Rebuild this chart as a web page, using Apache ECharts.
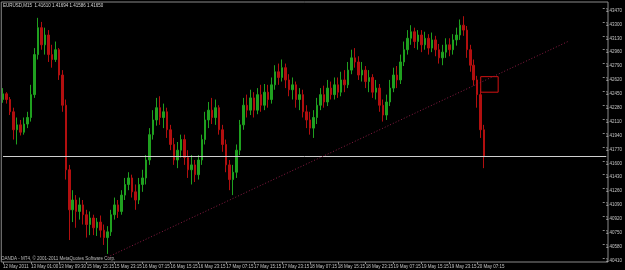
<!DOCTYPE html>
<html>
<head>
<meta charset="utf-8">
<script src="https://cdn.jsdelivr.net/npm/echarts@6/dist/echarts.min.js"></script>
<style>
  html, body { margin: 0; padding: 0; background: #000; }
  #chart { width: 625px; height: 270px; }
</style>
</head>
<body>
<div id="chart"></div>
<script>
// EURUSD candles, one per hour
const opens = [
  1.4235, 1.4242, 1.4235, 1.4220, 1.4198, 1.4204, 1.4195, 1.4205,
  1.4213, 1.4241, 1.4290, 1.4323, 1.4302, 1.4314, 1.4290, 1.4284,
  1.4296, 1.4265, 1.4228, 1.4149, 1.4100, 1.4112, 1.4098, 1.4106,
  1.4094, 1.4082, 1.4090, 1.4078, 1.4085, 1.4075, 1.4066, 1.4073,
  1.4094, 1.4106, 1.4098, 1.4118, 1.4131, 1.4139, 1.4122, 1.4112,
  1.4131, 1.4139, 1.4161, 1.4192, 1.4210, 1.4225, 1.4213, 1.4220,
  1.4198, 1.4180, 1.4161, 1.4173, 1.4186, 1.4164, 1.4149, 1.4155,
  1.4143, 1.4161, 1.4186, 1.4210, 1.4222, 1.4213, 1.4225, 1.4198,
  1.4180, 1.4155, 1.4137, 1.4146, 1.4173, 1.4204, 1.4228, 1.4222,
  1.4237, 1.4222, 1.4241, 1.4228, 1.4244, 1.4235, 1.4253, 1.4269,
  1.4262, 1.4274, 1.4259, 1.4247, 1.4253, 1.4235, 1.4241, 1.4220,
  1.4210, 1.4200, 1.4213, 1.4228, 1.4241, 1.4232, 1.4249, 1.4241,
  1.4253, 1.4244, 1.4259, 1.4253, 1.4271, 1.4286, 1.4281, 1.4265,
  1.4271, 1.4257, 1.4262, 1.4244, 1.4249, 1.4228, 1.4216, 1.4232,
  1.4249, 1.4265, 1.4259, 1.4281, 1.4296, 1.4310, 1.4318, 1.4306,
  1.4314, 1.4302, 1.4310, 1.4298, 1.4308, 1.4296, 1.4286, 1.4293,
  1.4302, 1.4296, 1.4308, 1.4314, 1.4326, 1.4320, 1.4296, 1.4277,
  1.4259, 1.4241, 1.4198
];
const closes = [
  1.4242, 1.4235, 1.4220, 1.4198, 1.4204, 1.4195, 1.4205, 1.4213,
  1.4241, 1.4290, 1.4323, 1.4302, 1.4314, 1.4290, 1.4284, 1.4296,
  1.4265, 1.4228, 1.4149, 1.4100, 1.4112, 1.4098, 1.4106, 1.4094,
  1.4082, 1.4090, 1.4078, 1.4085, 1.4075, 1.4066, 1.4073, 1.4094,
  1.4106, 1.4098, 1.4118, 1.4131, 1.4139, 1.4122, 1.4112, 1.4131,
  1.4139, 1.4161, 1.4192, 1.4210, 1.4225, 1.4213, 1.4220, 1.4198,
  1.4180, 1.4161, 1.4173, 1.4186, 1.4164, 1.4149, 1.4155, 1.4143,
  1.4161, 1.4186, 1.4210, 1.4222, 1.4213, 1.4225, 1.4198, 1.4180,
  1.4155, 1.4137, 1.4146, 1.4173, 1.4204, 1.4228, 1.4222, 1.4237,
  1.4222, 1.4241, 1.4228, 1.4244, 1.4235, 1.4253, 1.4269, 1.4262,
  1.4274, 1.4259, 1.4247, 1.4253, 1.4235, 1.4241, 1.4220, 1.4210,
  1.4200, 1.4213, 1.4228, 1.4241, 1.4232, 1.4249, 1.4241, 1.4253,
  1.4244, 1.4259, 1.4253, 1.4271, 1.4286, 1.4281, 1.4265, 1.4271,
  1.4257, 1.4262, 1.4244, 1.4249, 1.4228, 1.4216, 1.4232, 1.4249,
  1.4265, 1.4259, 1.4281, 1.4296, 1.4310, 1.4318, 1.4306, 1.4314,
  1.4302, 1.4310, 1.4298, 1.4308, 1.4296, 1.4286, 1.4293, 1.4302,
  1.4296, 1.4308, 1.4314, 1.4326, 1.4320, 1.4296, 1.4277, 1.4259,
  1.4241, 1.4198, 1.4165
];
const lows = [
  1.4231, 1.4230, 1.4216, 1.4186, 1.4180, 1.4191, 1.4192, 1.4200,
  1.4208, 1.4237, 1.4284, 1.4296, 1.4290, 1.4281, 1.4274, 1.4281,
  1.4259, 1.4220, 1.4137, 1.4063, 1.4085, 1.4078, 1.4088, 1.4082,
  1.4066, 1.4069, 1.4069, 1.4068, 1.4066, 1.4057, 1.4046, 1.4068,
  1.4088, 1.4090, 1.4094, 1.4112, 1.4124, 1.4115, 1.4100, 1.4107,
  1.4122, 1.4131, 1.4155, 1.4186, 1.4203, 1.4204, 1.4200, 1.4188,
  1.4173, 1.4155, 1.4151, 1.4164, 1.4155, 1.4139, 1.4131, 1.4134,
  1.4137, 1.4155, 1.4180, 1.4200, 1.4205, 1.4204, 1.4192, 1.4171,
  1.4146, 1.4124, 1.4118, 1.4139, 1.4167, 1.4198, 1.4213, 1.4216,
  1.4213, 1.4217, 1.4220, 1.4222, 1.4225, 1.4230, 1.4247, 1.4253,
  1.4257, 1.4249, 1.4239, 1.4235, 1.4225, 1.4222, 1.4213, 1.4200,
  1.4192, 1.4188, 1.4205, 1.4222, 1.4225, 1.4227, 1.4235, 1.4235,
  1.4237, 1.4239, 1.4244, 1.4249, 1.4266, 1.4274, 1.4259, 1.4257,
  1.4249, 1.4244, 1.4237, 1.4235, 1.4220, 1.4208, 1.4210, 1.4227,
  1.4244, 1.4249, 1.4254, 1.4276, 1.4290, 1.4302, 1.4298, 1.4296,
  1.4293, 1.4296, 1.4290, 1.4293, 1.4288, 1.4279, 1.4277, 1.4286,
  1.4288, 1.4290, 1.4301, 1.4308, 1.4313, 1.4286, 1.4269, 1.4252,
  1.4225, 1.4188, 1.4151
];
const highs = [
  1.4249, 1.4244, 1.4238, 1.4225, 1.4213, 1.4210, 1.4213, 1.4220,
  1.4253, 1.4298, 1.4335, 1.4330, 1.4323, 1.4320, 1.4302, 1.4306,
  1.4298, 1.4271, 1.4235, 1.4155, 1.4124, 1.4118, 1.4115, 1.4112,
  1.4100, 1.4098, 1.4094, 1.4090, 1.4093, 1.4082, 1.4080, 1.4100,
  1.4115, 1.4112, 1.4124, 1.4139, 1.4146, 1.4143, 1.4131, 1.4139,
  1.4149, 1.4167, 1.4200, 1.4222, 1.4237, 1.4239, 1.4230, 1.4225,
  1.4204, 1.4188, 1.4183, 1.4192, 1.4192, 1.4173, 1.4167, 1.4161,
  1.4167, 1.4192, 1.4220, 1.4232, 1.4237, 1.4235, 1.4228, 1.4204,
  1.4186, 1.4161, 1.4155, 1.4180, 1.4210, 1.4237, 1.4241, 1.4247,
  1.4244, 1.4249, 1.4253, 1.4254, 1.4253, 1.4262, 1.4277, 1.4279,
  1.4284, 1.4279, 1.4266, 1.4262, 1.4257, 1.4249, 1.4247, 1.4228,
  1.4220, 1.4222, 1.4237, 1.4249, 1.4252, 1.4259, 1.4257, 1.4262,
  1.4262, 1.4269, 1.4271, 1.4281, 1.4296, 1.4298, 1.4288, 1.4281,
  1.4276, 1.4271, 1.4266, 1.4259, 1.4254, 1.4235, 1.4241, 1.4259,
  1.4274, 1.4276, 1.4290, 1.4306, 1.4320, 1.4326, 1.4323, 1.4320,
  1.4320, 1.4318, 1.4315, 1.4317, 1.4313, 1.4303, 1.4302, 1.4310,
  1.4310, 1.4315, 1.4323, 1.4333, 1.4337, 1.4325, 1.4302, 1.4284,
  1.4264, 1.4249, 1.4204
];

// one label every 8 candles
const timeLabels = [
  '12 May 2011', '13 May 01:00', '13 May 09:30', '15 May 15:15', '15 May 23:15',
  '16 May 07:15', '16 May 15:15', '16 May 23:15', '17 May 07:15', '17 May 15:15',
  '17 May 23:15', '18 May 07:15', '18 May 15:15', '18 May 23:15', '19 May 07:15',
  '19 May 15:15', '19 May 23:15', '20 May 07:15'
];
const priceTicks = [
  '1.40410', '1.40580', '1.40750', '1.40920', '1.41090', '1.41260', '1.41430',
  '1.41600', '1.41770', '1.41940', '1.42110', '1.42280', '1.42450', '1.42620',
  '1.42790', '1.42960', '1.43130', '1.43300', '1.43470'
];
const header = 'EURUSD,M15  1.41610 1.41694 1.41586 1.41650';
const footer = 'OANDA - MT4, \u00a9 2001-2011 MetaQuotes Software Corp.';

// trend line and box, in candle index / price
const trendLine = [[30, 1.4042], [162, 1.4306]];
const box = [[137, 1.4263], [142, 1.4244]];

const slots = 174; // empty room on the right (chart shift)
const categories = [];
for (let i = 0; i < slots; i++) {
  categories.push(i % 8 === 0 && timeLabels[i / 8] ? timeLabels[i / 8] : '');
}
const candles = opens.map((o, i) => [o, closes[i], lows[i], highs[i]]);
const lastClose = closes[closes.length - 1];

const FONT = 'Liberation Sans';
const TXT = '#c4c4c4';
const FRAME = '#8a8a8a';
const UP = '#1fa01f';
const DOWN = '#b20f0f';

const showLabel = (idx) => idx % 8 === 0 && idx / 8 < timeLabels.length;

const chart = echarts.init(document.getElementById('chart'));
chart.setOption({
  backgroundColor: '#000',
  animation: false,
  grid: [
    { left: 1, right: 17, top: 2, bottom: 8, show: true, borderColor: FRAME, borderWidth: 1, backgroundColor: '#000' },
    { left: 1, right: 17, top: 8, bottom: 12 }
  ],
  xAxis: [
    {
      type: 'category',
      gridIndex: 0,
      data: categories,
      boundaryGap: true,
      axisLine: { show: false },
      axisTick: { show: true, alignWithLabel: true, interval: showLabel, length: 2, lineStyle: { color: FRAME } },
      axisLabel: { interval: showLabel, align: 'left', margin: 2, color: TXT, fontSize: 4.5, fontFamily: FONT },
      splitLine: { show: false }
    },
    { type: 'category', gridIndex: 1, data: categories, show: false }
  ],
  yAxis: [
    { type: 'value', gridIndex: 0, min: 1.40361, max: 1.43544, show: false, splitLine: { show: false } },
    {
      type: 'value',
      gridIndex: 1,
      position: 'right',
      min: 0,
      max: priceTicks.length - 1,
      interval: 1,
      axisLine: { show: false },
      axisTick: { show: true, length: 2, lineStyle: { color: FRAME } },
      axisLabel: {
        margin: 3, color: TXT, fontSize: 4.5, fontFamily: FONT, verticalAlign: 'top',
        formatter: (v) => priceTicks[v] || ''
      },
      splitLine: { show: false }
    }
  ],
  series: [
    {
      type: 'candlestick',
      xAxisIndex: 0,
      yAxisIndex: 0,
      data: candles,
      barWidth: 2,
      itemStyle: { color: UP, color0: DOWN, borderColor: UP, borderColor0: DOWN, borderWidth: 1 },
      markLine: {
        silent: true,
        symbol: ['none', 'none'],
        data: [
          [
            { coord: [0, lastClose], lineStyle: { color: '#cfcfcf', width: 1, type: 'solid' }, label: { show: false } },
            {
              coord: [slots - 1, lastClose],
              label: {
                show: true, position: 'end', distance: 2,
                formatter: lastClose.toFixed(5),
                backgroundColor: '#ffffff', color: '#000', fontSize: 4.5, fontFamily: FONT,
                padding: [1, 1, 0, 1]
              }
            }
          ],
          [
            { coord: trendLine[0], lineStyle: { color: '#8a1c44', width: 1, type: [1, 2] }, label: { show: false } },
            { coord: trendLine[1] }
          ]
        ]
      },
      markArea: {
        silent: true,
        itemStyle: { color: 'rgba(0,0,0,0)', borderColor: '#d41212', borderWidth: 1 },
        data: [[{ coord: box[0] }, { coord: box[1] }]]
      }
    }
  ],
  graphic: [
    { type: 'text', left: 3, top: 3, style: { text: header, fill: '#d8d8d8', fontSize: 4.5, fontFamily: FONT } },
    { type: 'text', left: 1, top: 256, style: { text: footer, fill: '#bdbdbd', fontSize: 4.5, fontFamily: FONT } }
  ]
});
</script>
</body>
</html>
